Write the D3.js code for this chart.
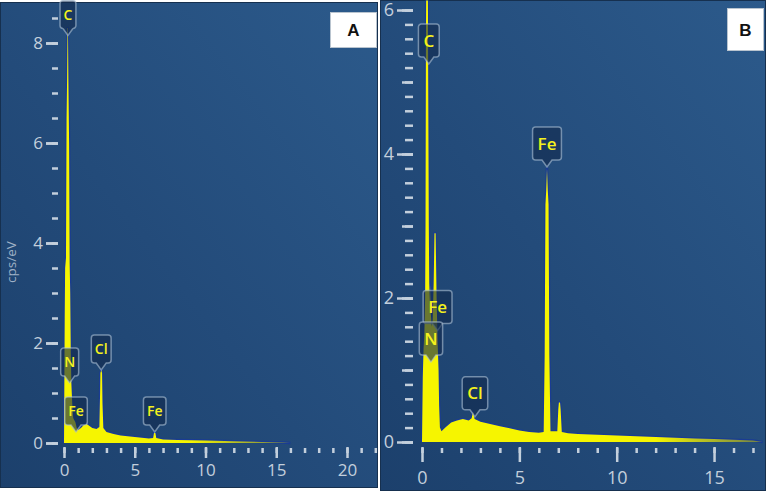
<!DOCTYPE html>
<html>
<head>
<meta charset="utf-8">
<script src="https://cdn.jsdelivr.net/npm/d3@7"></script>
<style>
  body { margin: 0; background: #ffffff; }
  svg { display: block; }
</style>
</head>
<body>
<script>
// spectrum A (keV, cps/eV)
var energyA = [0, 0.02, 0.05, 0.08, 0.14, 0.18, 0.22, 0.25, 0.28, 0.31, 0.36, 0.4, 0.44, 0.48, 0.52, 0.58, 0.65, 0.72, 0.8, 0.9, 1.0, 1.2, 1.4, 1.6, 1.8, 2.0, 2.3, 2.5, 2.55, 2.57, 2.63, 2.69, 2.72, 2.78, 3.0, 3.5, 4.0, 5.0, 6.0, 6.3, 6.36, 6.46, 6.52, 7, 8, 10, 12, 14, 15.5, 16]
var countsA = [0, 1.0, 2.5, 3.5, 3.7, 6.5, 7.3, 8.3, 8.3, 7.3, 6.0, 3.6, 3.0, 1.8, 1.2, 0.8, 0.5, 0.46, 0.42, 0.3, 0.26, 0.3, 0.36, 0.38, 0.34, 0.3, 0.28, 0.32, 1.0, 1.4, 1.46, 1.4, 0.8, 0.3, 0.22, 0.18, 0.15, 0.12, 0.09, 0.1, 0.2, 0.2, 0.1, 0.07, 0.06, 0.05, 0.035, 0.02, 0.01, 0]

// spectrum B (keV, cps/eV)
var energyB = [0, 0.04, 0.08, 0.12, 0.16, 0.18, 0.2, 0.22, 0.3, 0.32, 0.35, 0.38, 0.41, 0.45, 0.5, 0.55, 0.6, 0.64, 0.7, 0.75, 0.8, 0.85, 0.88, 0.92, 1.0, 1.2, 1.5, 1.8, 2.1, 2.4, 2.55, 2.62, 2.7, 3.0, 3.5, 4.0, 4.5, 5.0, 5.5, 6.0, 6.25, 6.3, 6.34, 6.38, 6.42, 6.46, 6.5, 6.54, 6.6, 6.95, 7.0, 7.03, 7.09, 7.12, 7.18, 7.5, 8, 9, 10, 11, 12, 13, 14, 15, 16, 17, 17.5]
var countsB = [0, 0.9, 1.3, 1.5, 2.0, 3.0, 5.5, 6.5, 6.5, 5.0, 3.0, 1.9, 2.2, 1.8, 1.6, 1.7, 2.2, 2.9, 2.9, 2.0, 1.4, 1.0, 0.5, 0.2, 0.15, 0.2, 0.27, 0.3, 0.32, 0.3, 0.33, 0.42, 0.32, 0.28, 0.25, 0.22, 0.19, 0.16, 0.14, 0.13, 0.14, 1.2, 3.3, 3.5, 3.8, 3.5, 3.3, 1.2, 0.15, 0.15, 0.45, 0.55, 0.55, 0.45, 0.14, 0.12, 0.11, 0.1, 0.09, 0.08, 0.07, 0.06, 0.05, 0.04, 0.03, 0.02, 0]

// peak labels: element, energy of the pointer, level of the pointer tip
var peaksA = ["C", "N", "Fe", "Cl", "Fe"]
var peakEnergyA = [0.28, 0.4, 0.85, 2.63, 6.41]
var peakLevelA = [8.15, 1.2, 0.22, 1.46, 0.22]

var peaksB = ["C", "Fe", "N", "Cl", "Fe"]
var peakEnergyB = [0.35, 0.8, 0.46, 2.72, 6.42]
var peakLevelB = [5.25, 1.55, 1.11, 0.35, 3.82]

var W = 768, H = 493

var svg = d3.select("body").append("svg")
  .attr("width", W)
  .attr("height", H)
  .style("font-family", "'Open Sans', 'DejaVu Sans', sans-serif")

var defs = svg.append("defs")

var bg = defs.append("linearGradient").attr("id", "bg")
  .attr("x1", "100%").attr("y1", "0%").attr("x2", "0%").attr("y2", "100%")
bg.append("stop").attr("offset", "0%").attr("stop-color", "#2c5a8b")
bg.append("stop").attr("offset", "55%").attr("stop-color", "#234b7a")
bg.append("stop").attr("offset", "100%").attr("stop-color", "#1c406c")

function panel(cfg) {
  var g = svg.append("g")

  g.append("rect")
    .attr("x", cfg.left).attr("y", cfg.top)
    .attr("width", cfg.right - cfg.left).attr("height", cfg.bottom - cfg.top)
    .attr("fill", "url(#bg)")
    .attr("stroke", "#16304f").attr("stroke-width", 1)

  var x = d3.scaleLinear().domain([0, cfg.xMaxTick]).range([cfg.x0, cfg.x0 + cfg.xMaxTick * cfg.pxPerKeV])
  var y = d3.scaleLinear().domain([0, cfg.yMaxTick]).range([cfg.y0, cfg.y0 - cfg.yMaxTick * cfg.pxPerUnit])

  // fading tail of the spectrum
  var gid = "fill" + cfg.id
  var grad = defs.append("linearGradient").attr("id", gid)
    .attr("gradientUnits", "userSpaceOnUse")
    .attr("x1", x(0)).attr("x2", x(cfg.fadeEnd)).attr("y1", 0).attr("y2", 0)
  grad.append("stop").attr("offset", cfg.fadeStart / cfg.fadeEnd).attr("stop-color", "#f6f500")
  grad.append("stop").attr("offset", 1).attr("stop-color", "#6d7e4a")

  var clipId = "clip" + cfg.id
  defs.append("clipPath").attr("id", clipId)
    .append("rect")
    .attr("x", cfg.left).attr("y", cfg.top)
    .attr("width", cfg.right - cfg.left).attr("height", cfg.bottom - cfg.top)

  var pts = cfg.energy.map(function(e, i) { return [e, cfg.counts[i]] })

  var plot = g.append("g").attr("clip-path", "url(#" + clipId + ")")

  plot.append("path")
    .datum(pts)
    .attr("d", d3.line().x(function(d) { return x(d[0]) }).y(function(d) { return y(d[1]) }))
    .attr("fill", "none")
    .attr("stroke", "#1a3c94")
    .attr("stroke-width", 2.5)
    .attr("stroke-linejoin", "round")

  plot.append("path")
    .datum(pts)
    .attr("d", d3.area()
      .x(function(d) { return x(d[0]) })
      .y0(y(0))
      .y1(function(d) { return y(d[1]) }))
    .attr("fill", "url(#" + gid + ")")

  // y axis: minor + major
  var yMinor = d3.range(0, cfg.yMaxTick + 1e-6, cfg.yMinorStep)
  var yMid = d3.range(0, cfg.yMaxTick + 1e-6, cfg.yMidStep)
  var yMajor = d3.range(0, cfg.yMaxTick + 1e-6, cfg.yMajorStep)

  var yAxisG = g.append("g").attr("transform", "translate(" + cfg.yTickRight + ",0)")
  yAxisG.append("g").call(d3.axisLeft(y).tickValues(yMinor).tickSize(cfg.yMinorLen).tickFormat(""))
  yAxisG.append("g").call(d3.axisLeft(y).tickValues(yMid).tickSize(cfg.yMidLen).tickFormat(""))
  yAxisG.append("g").call(d3.axisLeft(y).tickValues(yMajor).tickSize(cfg.yMajorLen).tickPadding(3).tickFormat(d3.format("d")))
  yAxisG.selectAll(".domain").remove()
  yAxisG.selectAll("line").attr("stroke", "#c3cfdc").attr("stroke-width", 2.5)
  yAxisG.selectAll("text").attr("fill", "#c3cfdc").style("font-size", cfg.tickFont + "px")
    .style("font-family", "'Open Sans', 'DejaVu Sans', sans-serif")

  // x axis: minor + major
  var xMinor = d3.range(0, cfg.xMaxTick + 1e-6, 1)
  var xMajor = d3.range(0, cfg.xMaxTick + 1e-6, 5)
  var xAxisG = g.append("g").attr("transform", "translate(0," + cfg.xTickTop + ")")
  xAxisG.append("g").attr("class", "minor").call(d3.axisBottom(x).tickValues(xMinor).tickSize(cfg.xMinorLen).tickFormat(""))
  xAxisG.append("g").call(d3.axisBottom(x).tickValues(xMajor).tickSize(cfg.xMajorLen).tickPadding(cfg.xPad).tickFormat(d3.format("d")))
  xAxisG.selectAll(".domain").remove()
  xAxisG.selectAll("line").attr("stroke", "#c3cfdc").attr("stroke-width", 2.5)
  xAxisG.selectAll(".minor line").attr("y1", 1)
  xAxisG.selectAll("text").attr("fill", "#c3cfdc").style("font-size", cfg.tickFont + "px")
    .style("font-family", "'Open Sans', 'DejaVu Sans', sans-serif")

  // peak labels
  var lab = g.selectAll(".peak").data(cfg.peaks).enter().append("g")
    .attr("class", "peak")
    .attr("transform", function(d, i) {
      return "translate(" + x(cfg.peakEnergy[i]) + "," + y(cfg.peakLevel[i]) + ")"
    })
  lab.each(function(d) {
    var sel = d3.select(this)
    var t = sel.append("text").text(d)
      .attr("text-anchor", "middle")
      .attr("fill", "#f4f21c")
      .style("font-weight", "600")
      .style("font-size", cfg.labelFont + "px")
    var w = t.node().getComputedTextLength() + cfg.labelPad
    var h = cfg.labelH, ph = 7, r = 3
    var top = -ph - h, bot = -ph
    var p = d3.path()
    p.moveTo(-w / 2 + r, top)
    p.lineTo(w / 2 - r, top)
    p.arcTo(w / 2, top, w / 2, top + r, r)
    p.lineTo(w / 2, bot - r)
    p.arcTo(w / 2, bot, w / 2 - r, bot, r)
    p.lineTo(5, bot)
    p.lineTo(0, 0)
    p.lineTo(-5, bot)
    p.lineTo(-w / 2 + r, bot)
    p.arcTo(-w / 2, bot, -w / 2, bot - r, r)
    p.lineTo(-w / 2, top + r)
    p.arcTo(-w / 2, top, -w / 2 + r, top, r)
    p.closePath()
    sel.insert("path", "text").attr("d", p.toString())
      .attr("fill", "rgba(18,42,78,0.62)")
      .attr("stroke", "rgba(175,195,215,0.6)")
      .attr("stroke-width", 1.5)
    t.attr("y", top + h / 2).attr("dy", "0.36em")
  })

  // corner letter
  g.append("rect")
    .attr("x", cfg.boxX).attr("y", cfg.boxY).attr("width", cfg.boxW).attr("height", cfg.boxH)
    .attr("fill", "#ffffff").attr("stroke", "#b9c4cf").attr("stroke-width", 1)
  g.append("text")
    .attr("x", cfg.boxX + cfg.boxW / 2).attr("y", cfg.boxY + cfg.boxH / 2)
    .attr("dy", "0.36em")
    .attr("text-anchor", "middle")
    .style("font-family", "'Liberation Sans', Arial, sans-serif")
    .style("font-weight", "bold")
    .style("font-size", "17px")
    .attr("fill", "#111")
    .text(cfg.id)

  return g
}

var gA = panel({
  id: "A", left: 0.5, top: 2.5, right: 377.5, bottom: 487.5,
  x0: 64, pxPerKeV: 14.15, xMaxTick: 22,
  y0: 443, pxPerUnit: 50, yMaxTick: 8.5,
  yMinorStep: 0.5, yMidStep: 2, yMajorStep: 2,
  yTickRight: 58, yMinorLen: 6, yMidLen: 12, yMajorLen: 12,
  xTickTop: 447, xMinorLen: 6, xMajorLen: 11, xPad: 6,
  tickFont: 17, labelFont: 14, labelPad: 7, labelH: 28,
  fadeStart: 9, fadeEnd: 16,
  energy: energyA, counts: countsA,
  peaks: peaksA, peakEnergy: peakEnergyA, peakLevel: peakLevelA,
  boxX: 330.5, boxY: 12.5, boxW: 46, boxH: 35
})

gA.append("text")
  .attr("transform", "translate(16,262) rotate(-90)")
  .attr("text-anchor", "middle")
  .attr("fill", "#9fb1c6")
  .style("font-size", "13.5px")
  .text("cps/eV")

panel({
  id: "B", left: 380.5, top: 0.5, right: 765.5, bottom: 490.5,
  x0: 422, pxPerKeV: 19.47, xMaxTick: 17,
  y0: 442, pxPerUnit: 72, yMaxTick: 6,
  yMinorStep: 0.2, yMidStep: 1, yMajorStep: 2,
  yTickRight: 413, yMinorLen: 8, yMidLen: 11, yMajorLen: 16,
  xTickTop: 447, xMinorLen: 6, xMajorLen: 15, xPad: 9,
  tickFont: 18, labelFont: 17, labelPad: 10, labelH: 33,
  fadeStart: 12, fadeEnd: 17.5,
  energy: energyB, counts: countsB,
  peaks: peaksB, peakEnergy: peakEnergyB, peakLevel: peakLevelB,
  boxX: 727.5, boxY: 8.5, boxW: 36, boxH: 42
})
</script>
</body>
</html>
